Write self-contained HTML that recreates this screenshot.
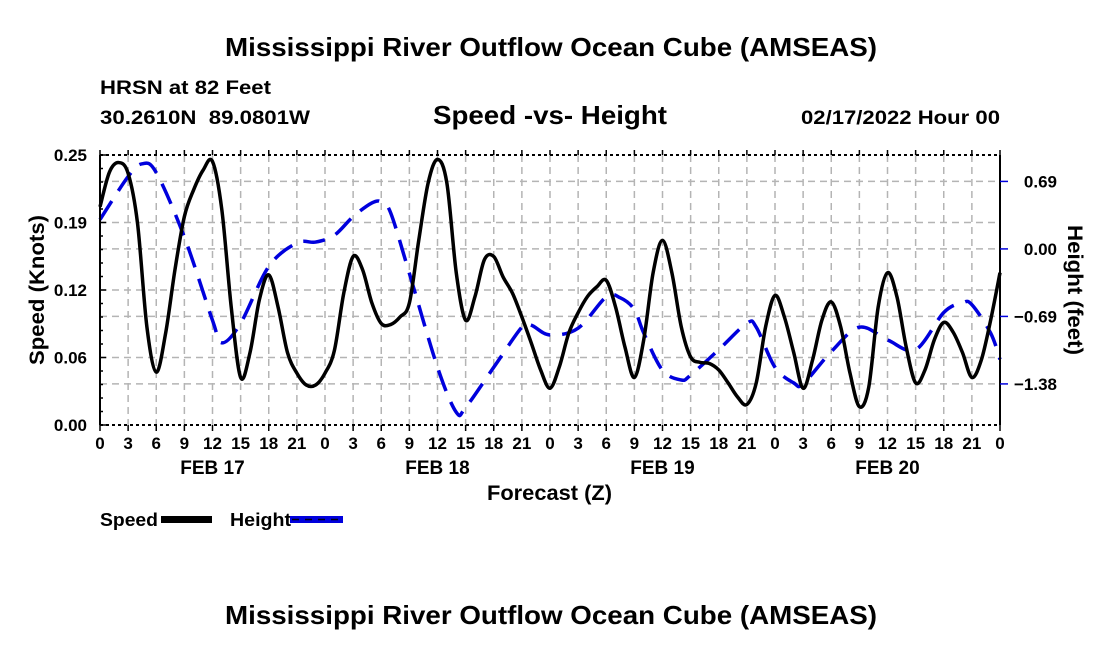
<!DOCTYPE html>
<html><head><meta charset="utf-8"><style>
body{margin:0;background:#fff;}
svg text{font-family:"Liberation Sans",Arial,sans-serif;font-weight:bold;fill:#000;}
</style></head><body>
<svg id="chart" width="1100" height="650" viewBox="0 0 1100 650">
<text x="225" y="56" font-size="26" textLength="652" lengthAdjust="spacingAndGlyphs">Mississippi River Outflow Ocean Cube (AMSEAS)</text>
<text x="100" y="94" font-size="19" textLength="171" lengthAdjust="spacingAndGlyphs">HRSN at 82 Feet</text>
<text x="100" y="124" font-size="19" textLength="210" lengthAdjust="spacingAndGlyphs" xml:space="preserve">30.2610N  89.0801W</text>
<text x="433" y="124" font-size="26" textLength="234" lengthAdjust="spacingAndGlyphs">Speed -vs- Height</text>
<text x="801" y="124" font-size="19" textLength="199" lengthAdjust="spacingAndGlyphs">02/17/2022 Hour 00</text>
<g id="grid"></g>
<g id="series"></g>
<g id="axes"></g>
<text transform="translate(44,290) rotate(-90)" font-size="21" textLength="150" lengthAdjust="spacingAndGlyphs" text-anchor="middle">Speed (Knots)</text>
<text transform="translate(1068,290) rotate(90)" font-size="21" textLength="130" lengthAdjust="spacingAndGlyphs" text-anchor="middle">Height (feet)</text>
<text x="487" y="500" font-size="21" textLength="125" lengthAdjust="spacingAndGlyphs">Forecast (Z)</text>
<g>
<text x="100" y="526" font-size="18" textLength="58" lengthAdjust="spacingAndGlyphs">Speed</text>
<rect x="161" y="516" width="51" height="7" fill="#000"/>
<text x="230" y="526" font-size="18" textLength="61" lengthAdjust="spacingAndGlyphs">Height</text>
<rect x="290" y="516" width="53" height="7" fill="#0000dd"/>
<line x1="292" y1="519.5" x2="341" y2="519.5" stroke="#001" stroke-width="1.5" stroke-dasharray="7,6"/>
</g>
<text x="225" y="624" font-size="26" textLength="652" lengthAdjust="spacingAndGlyphs">Mississippi River Outflow Ocean Cube (AMSEAS)</text>
</svg>
<script>
const speedValues=[0.202,0.234,0.243,0.233,0.187,0.091,0.049,0.085,0.144,0.193,0.218,0.236,0.244,0.199,0.109,0.044,0.067,0.116,0.139,0.109,0.067,0.048,0.037,0.037,0.048,0.069,
0.122,0.156,0.144,0.113,0.094,0.093,0.100,0.113,0.171,0.224,0.246,0.224,0.141,0.097,0.119,0.153,0.156,0.137,0.122,0.100,0.076,0.051,0.034,0.054,0.085,0.104,
0.119,0.128,0.134,0.109,0.072,0.044,0.079,0.141,0.171,0.141,0.091,0.063,0.058,0.057,0.051,0.039,0.026,0.019,0.039,0.091,0.120,0.100,0.067,0.034,0.060,0.097,
0.114,0.091,0.048,0.017,0.035,0.109,0.141,0.119,0.072,0.039,0.051,0.079,0.095,0.086,0.067,0.044,0.060,0.097,0.141];
const heightHours=[0,3,4.5,6,9,12,13,15,18,21,23,25,27,29,30,31,33,36,38,39,42,45,46,48,51,54,55.5,57,58,60,62,63,66,69,70,72,74,75,78,81,84,87,90,92,93,95,96];
const heightValues=[0.30,0.74,0.87,0.78,0.12,-0.73,-0.96,-0.76,-0.18,0.06,0.07,0.14,0.33,0.47,0.48,0.37,-0.25,-1.21,-1.67,-1.62,-1.21,-0.80,-0.78,-0.88,-0.81,-0.49,-0.50,-0.62,-0.86,-1.24,-1.34,-1.29,-1.03,-0.76,-0.80,-1.21,-1.37,-1.38,-1.05,-0.80,-0.93,-1.03,-0.65,-0.55,-0.57,-0.86,-1.13];
const speedTicks=[0,0.0625,0.125,0.1875,0.25];
const speedTickLabels=["0.00","0.06","0.12","0.19","0.25"];
const heightTicks=[0.69,0,-0.69,-1.38];
const heightTickLabels=["0.69","0.00","\u22120.69","\u22121.38"];
const hourLabels=["0","3","6","9","12","15","18","21"];
const dayLabels=["FEB 17","FEB 18","FEB 19","FEB 20"];

const L=100,R=1000,T=155,B=425;
const xS=h=>L+(h/96)*(R-L);
const yS=v=>B-(v/0.25)*(B-T);
const hMin=-1.80,hMax=0.96;
const yH=v=>B-((v-hMin)/(hMax-hMin))*(B-T);
const NS="http://www.w3.org/2000/svg";
function mk(tag,attrs,parent){const e=document.createElementNS(NS,tag);for(const k in attrs)e.setAttribute(k,attrs[k]);parent.appendChild(e);return e;}
const grid=document.getElementById('grid'),axes=document.getElementById('axes'),series=document.getElementById('series');
const gst={stroke:"#b4b4b4","stroke-width":1.5,"stroke-dasharray":"7,5"};
for(let h=3;h<96;h+=3){const l=mk('line',Object.assign({x1:xS(h),x2:xS(h),y1:T,y2:B},gst),grid);

}
speedTicks.slice(1,-1).forEach(v=>{const l=mk('line',Object.assign({x1:L,x2:R,y1:yS(v),y2:yS(v)},gst),grid);

});
heightTicks.forEach(v=>{const l=mk('line',Object.assign({x1:L,x2:R,y1:yH(v),y2:yH(v)},gst),grid);

});

function smooth(pts){let d=`M${pts[0][0]},${pts[0][1]}`;for(let i=0;i<pts.length-1;i++){const p0=pts[Math.max(0,i-1)],p1=pts[i],p2=pts[i+1],p3=pts[Math.min(pts.length-1,i+2)];
const c1=[p1[0]+(p2[0]-p0[0])/6,p1[1]+(p2[1]-p0[1])/6],c2=[p2[0]-(p3[0]-p1[0])/6,p2[1]-(p3[1]-p1[1])/6];
d+=`C${c1[0]},${c1[1]} ${c2[0]},${c2[1]} ${p2[0]},${p2[1]}`;}return d;}
const hp=mk('path',{d:smooth(heightHours.map((h,i)=>[xS(h),yH(heightValues[i])])),fill:"none",stroke:"#0000dd","stroke-width":3.5,"stroke-dasharray":"22,12"},series);


const sp=mk('path',{d:smooth(speedValues.map((v,i)=>[xS(i),yS(v)])),fill:"none",stroke:"#000","stroke-width":3.5,"stroke-linejoin":"round"},series);



const la=mk('line',{x1:L,x2:L,y1:T,y2:B,stroke:"#000","stroke-width":2},axes);


const ra=mk('line',{x1:R,x2:R,y1:T,y2:B,stroke:"#000","stroke-width":2},axes);


const ta=mk('line',{x1:L,x2:R,y1:T,y2:T,stroke:"#000","stroke-width":2,"stroke-dasharray":"3,3"},axes);


const ba=mk('line',{x1:L,x2:R,y1:B,y2:B,stroke:"#000","stroke-width":2,"stroke-dasharray":"3,3"},axes);


for(let v=0;v<=0.25001;v+=0.0125){const big=Math.abs(v/0.0625-Math.round(v/0.0625))<1e-6;
const t=mk('line',{x1:L,x2:L+(big?6:3),y1:yS(v),y2:yS(v),stroke:"#000","stroke-width":1.5},axes);

}
speedTicks.forEach((v,i)=>{const t=mk('text',{x:87,y:yS(v)+6,"font-size":17,"text-anchor":"end"},axes);t.textContent=speedTickLabels[i];

});
heightTicks.forEach((v,i)=>{const tk=mk('line',{x1:R,x2:R+8,y1:yH(v),y2:yH(v),stroke:"#0000dd","stroke-width":1.5},axes);


const t=mk('text',{x:1057,y:yH(v)+6,"font-size":17,"text-anchor":"end"},axes);t.textContent=heightTickLabels[i];

});
for(let h=0;h<=96;h+=3){const a=mk('line',{x1:xS(h),x2:xS(h),y1:B,y2:B+6,stroke:"#000","stroke-width":1.5},axes);


const b=mk('line',{x1:xS(h),x2:xS(h),y1:T,y2:T-5,stroke:"#000","stroke-width":1.5},axes);


const t=mk('text',{x:xS(h),y:449,"font-size":17,"text-anchor":"middle"},axes);t.textContent=h===96?"0":hourLabels[(h%24)/3];

}
dayLabels.forEach((d,i)=>{const t=mk('text',{x:xS(12+24*i),y:474,"font-size":19,"text-anchor":"middle"},axes);t.textContent=d;

});
</script>
</body></html>
